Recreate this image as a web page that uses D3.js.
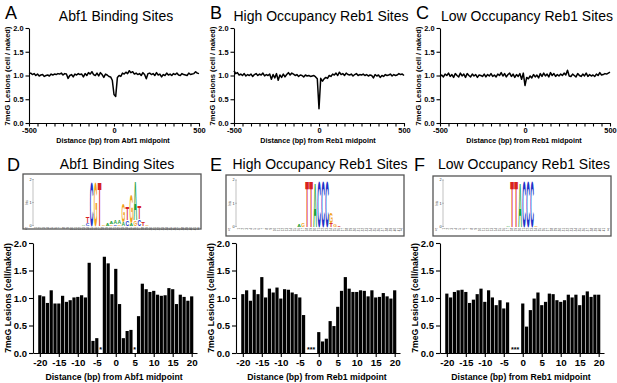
<!DOCTYPE html>
<html>
<head>
<meta charset="utf-8">
<script src="https://cdn.jsdelivr.net/npm/d3@7"></script>
<style>
body { margin: 0; background: #fff; }
svg text { font-family: "Liberation Sans", Arial, sans-serif; }
</style>
</head>
<body>
<script>
'use strict';

// Top row: 7meG lesion ratio (cell / naked) along +-500 bp, 10 bp steps.
var profile_x = d3.range(-500, 501, 10);

var abf1_profile = [
    1.04, 1.05, 1.02, 1.04, 1.00, 1.03, 0.99, 1.01, 1.02, 0.98,
    1.00, 1.01, 0.99, 1.03, 1.01, 1.03, 1.02, 1.04, 1.03, 1.05,
    1.01, 1.04, 1.03, 0.94, 1.00, 1.02, 0.97, 1.03, 1.01, 1.04,
    1.02, 1.03, 0.97, 1.04, 1.00, 1.06, 1.03, 1.08, 1.02, 1.00,
    1.05, 0.99, 1.06, 1.02, 0.96, 1.03, 1.01, 0.98, 0.97, 0.90,
    0.60, 0.56, 0.96, 1.00, 0.98, 1.05, 1.03, 1.07, 1.04, 1.10,
    1.06, 1.08, 1.03, 1.05, 1.02, 1.04, 1.00, 1.06, 1.02, 0.93,
    1.04, 1.05, 1.02, 1.04, 1.00, 1.06, 1.01, 1.03, 0.97, 1.02,
    1.00, 1.05, 1.01, 1.03, 1.00, 1.04, 1.02, 1.05, 1.01, 1.00,
    1.04, 1.02, 1.01, 1.00, 1.05, 1.02, 1.03, 1.04, 1.08, 1.05,
    1.04
];

var reb1_high_profile = [
    1.10, 1.04, 1.06, 1.01, 1.03, 1.00, 1.04, 0.99, 1.02, 1.00,
    1.03, 0.98, 1.02, 1.04, 1.00, 1.03, 1.01, 1.05, 0.99, 1.02,
    1.00, 1.03, 0.92, 1.02, 0.95, 1.04, 0.90, 1.01, 0.96, 1.03,
    0.97, 1.02, 1.06, 1.01, 1.05, 1.03, 1.00, 1.02, 0.98, 1.01,
    1.00, 0.97, 1.01, 0.99, 1.00, 0.98, 0.99, 1.00, 0.97, 0.93,
    0.30, 0.94, 0.88, 0.93, 0.96, 0.94, 1.00, 0.98, 1.03, 1.01,
    1.05, 1.00, 1.07, 1.02, 1.04, 1.00, 1.05, 1.02, 1.01, 1.03,
    0.99, 1.02, 1.04, 1.00, 1.02, 1.01, 1.03, 1.00, 1.02, 0.99,
    1.01, 1.00, 0.95, 1.02, 0.99, 1.01, 0.96, 1.00, 0.98, 1.02,
    1.00, 1.01, 1.03, 0.99, 1.02, 1.00, 1.01, 1.04, 1.02, 1.03,
    1.00
];

var reb1_low_profile = [
    0.98, 1.01, 0.97, 1.03, 1.00, 1.05, 0.98, 1.02, 0.96, 1.04,
    1.00, 0.97, 1.05, 0.99, 1.03, 0.96, 1.04, 1.00, 0.97, 1.03,
    0.99, 1.02, 0.96, 1.01, 1.00, 0.98, 1.03, 0.97, 1.02, 0.99,
    1.04, 0.98, 1.01, 0.97, 1.03, 1.00, 1.06, 0.99, 1.04, 0.97,
    1.02, 1.05, 0.98, 1.03, 0.96, 1.02, 0.98, 1.04, 0.92, 1.05,
    0.79, 0.96, 0.93, 0.99, 0.95, 1.02, 0.97, 1.01, 0.95, 1.04,
    0.98, 1.05, 0.99, 1.03, 0.97, 1.06, 1.00, 1.04, 0.98, 1.02,
    0.99, 1.03, 1.00, 1.05, 1.01, 1.11, 0.99, 0.98, 1.03, 1.00,
    0.97, 1.04, 1.00, 0.98, 1.03, 0.99, 1.05, 0.98, 1.02, 0.99,
    1.01, 0.98, 1.03, 1.00, 1.06, 1.01, 1.02, 1.04, 1.03, 1.05,
    1.07
];

// Bottom row: per-bp ratio from -20 to 20 (null = no lesions, starred)
var bar_x = d3.range(-20, 21);

var abf1_bars = [
    1.05, 1.03, 0.91, 1.14, 0.90, 0.90, 1.04, 0.93, 0.96, 1.01,
    1.02, 1.05, 1.01, 1.64, 0.22, 0.27, null, 1.75, 1.63, 1.07,
    1.53, 0.89, 0.27, 0.40, 0.42, null, 0.67, 1.26, 1.16, 1.11,
    1.13, 1.06, 1.04, 1.05, 1.18, 1.16, 0.89, 1.06, 1.02, 0.95,
    1.03
];
var reb1_high_bars = [
    1.07, 1.14, 0.95, 1.15, 1.07, 1.38, 1.01, 1.17, 1.10, 1.19,
    0.99, 1.16, 1.15, 1.10, 1.07, 1.01, 0.69, null, null, null,
    0.38, 0.21, 0.26, 0.58, 0.49, 0.84, 1.13, 1.38, 1.17, 1.11,
    1.11, 1.14, 1.13, 1.03, 1.14, 1.01, 1.02, 1.09, 1.03, 0.99,
    1.14
];
var reb1_low_bars = [
    1.08, 1.01, 1.11, 1.14, 1.15, 1.11, 0.91, 0.97, 1.07, 1.17,
    0.93, 1.14, 1.01, 0.87, 0.96, 0.81, 0.92, null, null, null,
    0.90, 0.48, 0.78, 0.99, 1.10, 0.87, 0.93, 1.08, 1.07, 0.96,
    0.93, 0.96, 1.06, 1.01, 1.06, 0.87, 1.05, 1.12, 1.02, 1.06,
    1.06
];

var abf1_stars = [[-4, "*"], [5, "*"]];
var reb1_high_stars = [[-2, "***"]];
var reb1_low_stars = [[-2, "***"]];

// sequence logos: [position (bp), base, bits], stacked bottom to top
var abf1_logo = [
    [-8, "A", 0.05], [-7, "C", 0.12], [-7, "T", 0.30],
    [-6, "C", 2.0], [-5, "G", 2.0], [-4, "T", 2.0],
    [-3, "G", 0.05], [-2, "A", 0.10], [-1, "G", 0.05], [-1, "A", 0.10],
    [0, "C", 0.05], [0, "A", 0.15], [1, "G", 0.08], [1, "A", 0.18],
    [2, "A", 0.15], [2, "G", 0.80], [3, "C", 0.25], [3, "T", 0.55],
    [4, "A", 0.10], [4, "G", 1.30], [5, "G", 0.25], [5, "A", 1.75],
    [6, "C", 0.30], [6, "T", 0.60], [7, "T", 0.15], [8, "G", 0.05]
];
var reb1_high_logo = [
    [-5, "A", 0.12], [-4, "G", 0.18],
    [-3, "T", 2.0], [-2, "T", 2.0], [-1, "A", 1.95],
    [0, "C", 2.0], [1, "C", 2.0], [2, "C", 2.0],
    [3, "T", 0.15], [3, "G", 0.45], [4, "G", 0.08], [5, "T", 0.05]
];
var reb1_low_logo = [
    [-4, "A", 0.06],
    [-3, "T", 2.0], [-2, "T", 2.0], [-1, "A", 1.95],
    [0, "C", 2.0], [1, "C", 2.0], [2, "C", 2.0],
    [3, "G", 0.06]
];

var base_colors = {A: "#1fa13a", C: "#2233c8", G: "#f2a31c", T: "#d8221f"};

var svg = d3.select("body").append("svg")
    .attr("width", 617)
    .attr("height", 383);

function styleAxis(g, size) {
    g.selectAll("path, line").attr("stroke", "#000").attr("stroke-width", 1.1);
    g.selectAll("text")
        .attr("font-family", "Liberation Sans, Arial, sans-serif")
        .attr("font-weight", "bold")
        .attr("font-size", size)
        .attr("fill", "#000");
}

//
// top row: line profiles
//
function profilePanel(ox, letter, title, values, xlabel) {
    var x = d3.scaleLinear().domain([-500, 500]).range([ox, ox + 170]);
    var y = d3.scaleLinear().domain([0, 2]).range([123, 28]);
    var g = svg.append("g");

    g.append("text").attr("x", ox - 24).attr("y", 18.5)
        .attr("font-size", 18).text(letter);
    g.append("text").attr("x", ox + 87).attr("y", 20.5)
        .attr("font-size", 14).attr("text-anchor", "middle").text(title);

    var xa = g.append("g").attr("transform", "translate(0,123)")
        .call(d3.axisBottom(x).tickValues(d3.range(-500, 501, 50))
            .tickSize(3.5).tickSizeOuter(0).tickPadding(1.5)
            .tickFormat(function(d) { return d % 500 === 0 ? d : ""; }));
    styleAxis(xa, 7.4);

    var ya = g.append("g").attr("transform", "translate(" + ox + ",0)")
        .call(d3.axisLeft(y).tickValues([0, 0.5, 1, 1.5, 2])
            .tickSize(3.5).tickSizeOuter(0).tickPadding(2)
            .tickFormat(d3.format(".1f")));
    styleAxis(ya, 7.4);

    g.append("text")
        .attr("transform", "translate(" + (ox - 22) + ",76) rotate(-90)")
        .attr("text-anchor", "middle").attr("dy", "0.35em")
        .attr("font-size", 7.5).attr("font-weight", "bold")
        .text("7meG Lesions (cell / naked)");

    g.append("text").attr("x", ox + 84).attr("y", 143)
        .attr("text-anchor", "middle")
        .attr("font-size", 7.2).attr("font-weight", "bold")
        .text(xlabel);

    var line = d3.line()
        .x(function(d, i) { return x(profile_x[i]); })
        .y(function(d) { return y(d); });
    g.append("path").datum(values)
        .attr("fill", "none").attr("stroke", "#000")
        .attr("stroke-width", 1.5).attr("stroke-linejoin", "round")
        .attr("d", line);
}

//
// sequence logo box
//
function drawLogo(b, logo) {
    var g = svg.append("g");
    g.append("rect").attr("x", b.x0).attr("y", b.y0)
        .attr("width", b.x1 - b.x0).attr("height", b.y1 - b.y0)
        .attr("fill", "#fff").attr("stroke", "#555").attr("stroke-width", 1.3);

    var px = d3.scaleLinear().domain([-20, 20]).range([b.first, b.first + 40 * b.step]);
    var by = d3.scaleLinear().domain([0, 2]).range([b.base, b.top]);

    // bits axis
    g.append("line").attr("x1", b.x0 + 10).attr("x2", b.x0 + 10)
        .attr("y1", by(0)).attr("y2", by(2))
        .attr("stroke", "#999").attr("stroke-width", 0.6);
    [0, 1, 2].forEach(function(v) {
        g.append("line").attr("x1", b.x0 + 9).attr("x2", b.x0 + 11)
            .attr("y1", by(v)).attr("y2", by(v))
            .attr("stroke", "#999").attr("stroke-width", 0.6);
        g.append("text").attr("x", b.x0 + 8.5).attr("y", by(v) + 1.3)
            .attr("text-anchor", "end").attr("font-size", 3.8)
            .attr("fill", "#333").text(v);
    });
    g.append("text")
        .attr("transform", "translate(" + (b.x0 + 5) + "," + by(1) + ") rotate(-90)")
        .attr("text-anchor", "middle").attr("font-size", 3).attr("fill", "#444")
        .text("bits");

    // position numbers along the bottom
    g.selectAll(".pos").data(bar_x).enter().append("text")
        .attr("transform", function(d) {
            return "translate(" + (px(d) + 1) + "," + (b.base + 1.5) + ") rotate(-90)";
        })
        .attr("text-anchor", "end").attr("font-size", 2.8).attr("fill", "#444")
        .text(function(d, i) { return i + 1; });
    g.append("text").attr("x", b.x0 + 2).attr("y", b.base + 4)
        .attr("font-size", 3.5).attr("fill", "#444").text("5'");
    g.append("text").attr("x", b.x1 - 4).attr("y", b.base + 4)
        .attr("font-size", 3.5).attr("fill", "#444").text("3'");

    // stacked letters
    var stack = {};
    var w = b.step * 0.92;
    logo.forEach(function(d) {
        var pos = d[0], base = d[1], bits = d[2];
        var y0 = stack[pos] || 0;
        var h = by(y0) - by(y0 + bits);
        stack[pos] = y0 + bits;
        g.append("text")
            .attr("transform", "translate(" + (px(pos) - w / 2) + "," + by(y0) +
                ") scale(1," + (h / 7.25) + ")")
            .attr("font-size", 10).attr("font-weight", "bold")
            .attr("textLength", w).attr("lengthAdjust", "spacingAndGlyphs")
            .attr("fill", base_colors[base])
            .text(base);
    });
}

//
// bottom row: bar charts
//
function barPanel(ox, letter, title, values, stars, xlabel) {
    var x = d3.scaleLinear().domain([-21.8, 21.4]).range([ox, ox + 164]);
    var y = d3.scaleLinear().domain([0, 2]).range([353, 243]);
    var g = svg.append("g");

    g.append("text").attr("x", ox - 26).attr("y", 171)
        .attr("font-size", 18).text(letter);
    g.append("text").attr("x", ox + 84).attr("y", 168.5)
        .attr("font-size", 14).attr("text-anchor", "middle").text(title);

    var bw = 3.2;
    g.selectAll(".bar").data(bar_x.filter(function(d, i) { return values[i] !== null; }))
        .enter().append("rect")
        .attr("x", function(d) { return x(d) - bw / 2; })
        .attr("y", function(d) { return y(values[d + 20]); })
        .attr("width", bw)
        .attr("height", function(d) { return y(0) - y(values[d + 20]); })
        .attr("fill", "#000");

    g.selectAll(".star").data(stars).enter().append("text")
        .attr("x", function(d) { return x(d[0]); })
        .attr("y", y(0) - 1)
        .attr("text-anchor", "middle").attr("font-size", 7)
        .attr("font-weight", "bold")
        .text(function(d) { return d[1]; });

    var xa = g.append("g").attr("transform", "translate(0,353)")
        .call(d3.axisBottom(x).tickValues(d3.range(-20, 21, 5))
            .tickSize(4).tickSizeOuter(0).tickPadding(2.5));
    styleAxis(xa, 9.8);
    xa.selectAll("text").text(function(d) { return d; });

    var ya = g.append("g").attr("transform", "translate(" + ox + ",0)")
        .call(d3.axisLeft(y).tickValues([0, 0.5, 1, 1.5, 2])
            .tickSize(4).tickSizeOuter(0).tickPadding(2)
            .tickFormat(d3.format(".1f")));
    styleAxis(ya, 9.5);

    g.append("text")
        .attr("transform", "translate(" + (ox - 25) + ",298) rotate(-90)")
        .attr("text-anchor", "middle").attr("dy", "0.35em")
        .attr("font-size", 8.7).attr("font-weight", "bold")
        .text("7meG Lesions (cell/naked)");

    g.append("text").attr("x", ox + 81).attr("y", 380)
        .attr("text-anchor", "middle")
        .attr("font-size", 8.7).attr("font-weight", "bold")
        .text(xlabel);
}

profilePanel(29, "A", "Abf1 Binding Sites", abf1_profile, "Distance (bp) from Abf1 midpoint");
profilePanel(234, "B", "High Occupancy Reb1 Sites", reb1_high_profile, "Distance (bp) from Reb1 midpoint");
profilePanel(440, "C", "Low Occupancy Reb1 Sites", reb1_low_profile, "Distance (bp) from Reb1 midpoint");

drawLogo({x0: 23, x1: 201, y0: 174, y1: 229, base: 225.5, top: 179.5, first: 36, step: 3.97}, abf1_logo);
drawLogo({x0: 226, x1: 404, y0: 175, y1: 236, base: 226.5, top: 180, first: 239, step: 4.0}, reb1_high_logo);
drawLogo({x0: 433, x1: 611, y0: 176, y1: 236, base: 226.5, top: 180, first: 444, step: 4.0}, reb1_low_logo);

barPanel(33, "D", "Abf1 Binding Sites", abf1_bars, abf1_stars, "Distance (bp) from Abf1 midpoint");
barPanel(236, "E", "High Occupancy Reb1 Sites", reb1_high_bars, reb1_high_stars, "Distance (bp) from Reb1 midpoint");
barPanel(440, "F", "Low Occupancy Reb1 Sites", reb1_low_bars, reb1_low_stars, "Distance (bp) from Reb1 midpoint");
</script>
</body>
</html>
